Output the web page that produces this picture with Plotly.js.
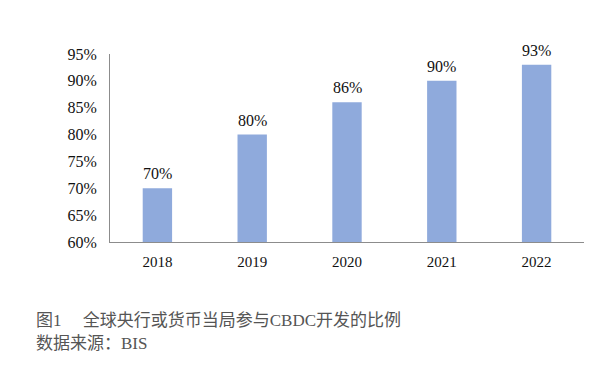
<!DOCTYPE html>
<html>
<head>
<meta charset="utf-8">
<script src="https://cdn.plot.ly/plotly-3.0.1.min.js"></script>
<style>html,body{margin:0;padding:0;background:#fff;}#chart{width:602px;height:379px;}</style>
</head>
<body>
<div id="chart"></div>
<script>
const years = ["2018", "2019", "2020", "2021", "2022"];
const shares = [0.70, 0.80, 0.86, 0.90, 0.93];
const labels = ["70%", "80%", "86%", "90%", "93%"];
const yTicks = [0.60, 0.65, 0.70, 0.75, 0.80, 0.85, 0.90, 0.95];
const yTickText = ["60%", "65%", "70%", "75%", "80%", "85%", "90%", "95%"];
const captionLine1 = "图1\u3000 全球央行或货币当局参与CBDC开发的比例";
const captionLine2 = "数据来源：BIS";

const serif = "'Liberation Serif', 'Times New Roman', 'Noto Sans CJK SC', serif";
const W = 602, H = 379;
const m = {l: 110, r: 18, t: 54, b: 137};
const pw = W - m.l - m.r, ph = H - m.t - m.b;

const trace = {
  type: "bar",
  x: years,
  y: shares,
  width: 0.31,
  marker: {color: "#8faadc"},
  hoverinfo: "skip"
};

const barLabels = years.map((yr, i) => ({
  x: i, y: shares[i], xref: "x", yref: "y",
  text: labels[i], showarrow: false,
  xanchor: "center", yanchor: "bottom", yshift: 4,
  font: {family: serif, size: 16, color: "#111"}
}));

const layout = {
  width: W, height: H,
  margin: m,
  paper_bgcolor: "#fff",
  plot_bgcolor: "#fff",
  showlegend: false,
  xaxis: {
    type: "category",
    categoryarray: years,
    range: [-0.5, 4.5],
    showline: true, linecolor: "#8c8c8c", linewidth: 1,
    ticks: "", showgrid: false, zeroline: false,
    tickfont: {family: serif, size: 15, color: "#111"},
    ticklabelstandoff: 6
  },
  yaxis: {
    range: [0.60, 0.95],
    tickvals: yTicks, ticktext: yTickText,
    showline: true, linecolor: "#8c8c8c", linewidth: 1,
    ticks: "", showgrid: false, zeroline: false,
    tickfont: {family: serif, size: 16, color: "#111"},
    ticklabelstandoff: 9
  },
  annotations: barLabels.concat([
    {text: captionLine1, xref: "paper", yref: "paper",
     x: (34 - m.l) / pw, y: (H - m.b - 320) / ph, xanchor: "left", yanchor: "middle",
     showarrow: false, font: {family: serif, size: 17, color: "#555"}},
    {text: captionLine2, xref: "paper", yref: "paper",
     x: (34 - m.l) / pw, y: (H - m.b - 343) / ph, xanchor: "left", yanchor: "middle",
     showarrow: false, font: {family: serif, size: 17, color: "#555"}}
  ])
};

Plotly.newPlot("chart", [trace], layout, {displayModeBar: false, staticPlot: true});
</script>
</body>
</html>
